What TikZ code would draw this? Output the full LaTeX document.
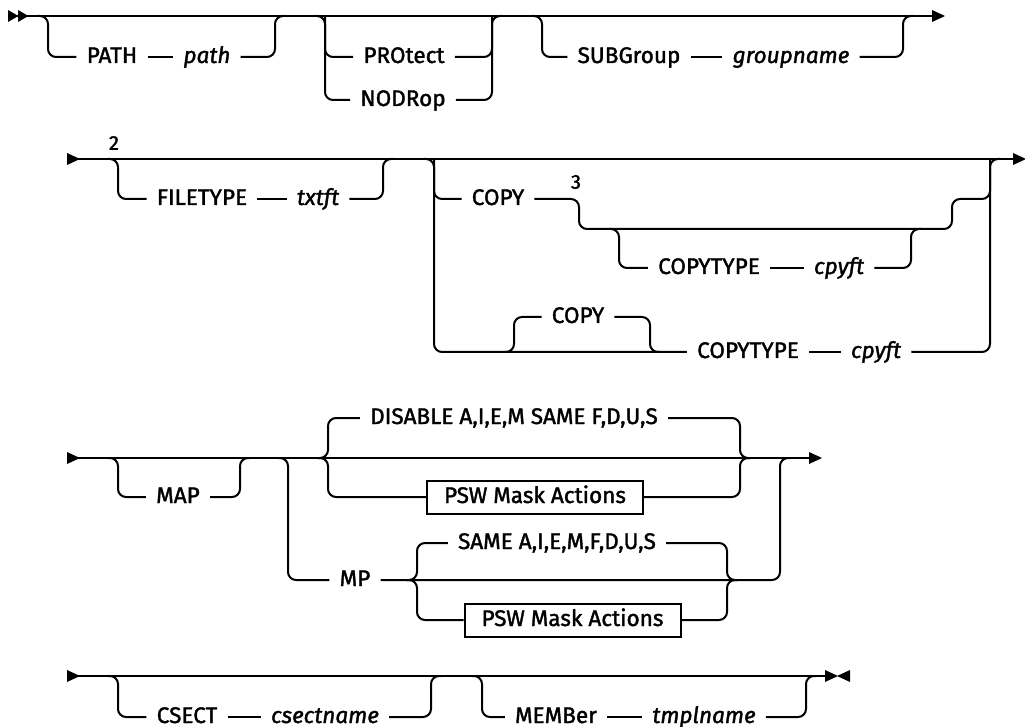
\documentclass[tikz,border=0pt]{standalone}
\usepackage{fontspec}
\setmainfont{Fira Sans}[FakeBold=1.6]

\begin{document}
\begin{tikzpicture}[x=0.75pt, y=-0.75pt,
    rail/.style={line width=1.5pt, rounded corners=6pt},
    kw/.style={inner xsep=7.5pt, inner ysep=0pt, text height=11.6pt, text depth=2.6pt,
      font=\fontsize{16.9}{19}\selectfont},
    var/.style={kw, font=\fontsize{16.9}{19}\selectfont\itshape},
    pswbox/.style={kw, draw, line width=1.5pt, minimum width=162pt, minimum height=24.75pt},
    fnote/.style={inner sep=0pt, font=\fontsize{15}{17}\selectfont},
    arrowhd/.pic={\fill (0,-6) -- (13,0) -- (0,6) -- cycle;}
  ]
  \useasboundingbox (0,0) rectangle (1025,727);

  % row 1
  \coordinate (r1s) at (8,16);
  \coordinate (r1e) at (932,16);
  \draw[rail] (r1s) -- (r1e);
  \pic[xscale=0.8] at (r1s) {arrowhd};
  \pic[xscale=0.8] at (18,16) {arrowhd};
  \pic at (r1e) {arrowhd};

  % PATH path
  \coordinate (a1) at (48,16);
  \coordinate (b1) at (275,16);
  \node[kw] (pathkw) at (112,57) {PATH};
  \node[var] (pathvar) at (207,57) {path};
  \draw[rail] (a1) ++(-10,0) -- (a1) |- (pathkw.west);
  \draw[rail] (pathkw.east) -- (pathvar.west);
  \draw[rail] (pathvar.east) -| (b1) -- ++(10,0);

  % PROtect / NODRop
  \coordinate (a2) at (325,16);
  \coordinate (b2) at (492,16);
  \node[kw] (protkw) at (404,57) {PROtect};
  \node[kw] (nodrkw) at (403,100) {NODRop};
  \draw[rail] (a2) ++(-10,0) -- (a2) |- (protkw.west);
  \draw[rail] (a2) |- (nodrkw.west);
  \draw[rail] (protkw.east) -| (b2) -- ++(10,0);
  \draw[rail] (nodrkw.east) -| (b2);

  % SUBGroup groupname
  \coordinate (a3) at (542,16);
  \coordinate (b3) at (903,16);
  \node[kw] (subkw) at (629,57) {SUBGroup};
  \node[var] (grpvar) at (791,57) {groupname};
  \draw[rail] (a3) ++(-10,0) -- (a3) |- (subkw.west);
  \draw[rail] (subkw.east) -- (grpvar.west);
  \draw[rail] (grpvar.east) -| (b3) -- ++(10,0);

  % row 2
  \coordinate (r2s) at (67,159);
  \coordinate (r2e) at (1013,159);
  \draw[rail] (r2s) -- (r2e);
  \pic at (r2s) {arrowhd};
  \pic at (r2e) {arrowhd};
  \node[fnote] (fn2) at (114,143) {2};

  % FILETYPE txtft
  \coordinate (a4) at (118,159);
  \coordinate (b4) at (383,159);
  \node[kw] (filekw) at (202,199) {FILETYPE};
  \node[var] (txtvar) at (318,199) {txtft};
  \draw[rail] (a4) ++(-10,0) -- (a4) |- (filekw.west);
  \draw[rail] (filekw.east) -- (txtvar.west);
  \draw[rail] (txtvar.east) -| (b4) -- ++(10,0);

  % COPY group
  \coordinate (a5) at (434,159);
  \coordinate (b5) at (990,159);
  \node[kw] (copy1) at (498,199) {COPY};
  \node[fnote] (fn3) at (576,182) {3};
  \coordinate (c1) at (579,229);
  \coordinate (d1) at (952,229);
  \draw[rail] (a5) ++(-10,0) -- (a5) |- (copy1.west);
  \draw[rail] (copy1.east) -| (c1) -- (d1) -- ++(0,-30) -| (b5) -- ++(10,0);

  % COPYTYPE inside COPY
  \coordinate (c2) at (619,229);
  \coordinate (d2) at (911,229);
  \node[kw] (ct1kw) at (709,268) {COPYTYPE};
  \node[var] (cf1var) at (839,268) {cpyft};
  \draw[rail] (c2) ++(-10,0) -- (c2) |- (ct1kw.west);
  \draw[rail] (ct1kw.east) -- (cf1var.west);
  \draw[rail] (cf1var.east) -| (d2) -- ++(10,0);

  % COPYTYPE with default COPY
  \node[kw] (ct2kw) at (748,352) {COPYTYPE};
  \node[var] (cf2var) at (876,352) {cpyft};
  \draw[rail] (a5) |- (ct2kw.west);
  \draw[rail] (ct2kw.east) -- (cf2var.west);
  \draw[rail] (cf2var.east) -| (b5);
  \coordinate (e1) at (514,352);
  \coordinate (f1) at (650,352);
  \node[kw] (copy2) at (578,317) {COPY};
  \draw[rail] (e1) ++(-10,0) -- (e1) |- (copy2.west);
  \draw[rail] (copy2.east) -| (f1) -- ++(10,0);

  % row 3
  \coordinate (r3s) at (67,458);
  \coordinate (r3e) at (809,458);
  \draw[rail] (r3s) -- (r3e);
  \pic at (r3s) {arrowhd};
  \pic at (r3e) {arrowhd};

  % MAP
  \coordinate (a6) at (118,458);
  \coordinate (b6) at (240,458);
  \node[kw] (mapkw) at (178,497) {MAP};
  \draw[rail] (a6) ++(-10,0) -- (a6) |- (mapkw.west);
  \draw[rail] (mapkw.east) -| (b6) -- ++(10,0);

  % choice after MAP
  \coordinate (g2) at (328,458);
  \coordinate (h2) at (740,458);
  \node[kw] (diskw) at (514,418) {DISABLE A,I,E,M SAME F,D,U,S};
  \node[pswbox] (psw1) at (535,497) {PSW Mask Actions};
  \draw[rail] (g2) ++(-10,0) -- (g2) |- (diskw.west);
  \draw[rail] (g2) ++(-10,0) -- (g2) |- (psw1.west);
  \draw[rail] (diskw.east) -| (h2) -- ++(10,0);
  \draw[rail] (psw1.east) -| (h2) -- ++(10,0);

  % MP
  \coordinate (a7) at (288,458);
  \coordinate (b7) at (780,458);
  \node[kw] (mpkw) at (355,580) {MP};
  \draw[rail] (a7) ++(-10,0) -- (a7) |- (mpkw.west);
  \draw[rail] (mpkw.east) -| (b7) -- ++(10,0);

  % choice after MP
  \coordinate (g1) at (417,580);
  \coordinate (h1) at (727,580);
  \node[kw] (samekw) at (557,543) {SAME A,I,E,M,F,D,U,S};
  \node[pswbox] (psw2) at (572.5,620) {PSW Mask Actions};
  \draw[rail] (g1) ++(-10,0) -- (g1) |- (samekw.west);
  \draw[rail] (g1) ++(-10,0) -- (g1) |- (psw2.west);
  \draw[rail] (samekw.east) -| (h1) -- ++(10,0);
  \draw[rail] (psw2.east) -| (h1) -- ++(10,0);

  % row 4
  \coordinate (r4s) at (67,676);
  \coordinate (r4e) at (825,676);
  \draw[rail] (r4s) -- (r4e);
  \pic at (r4s) {arrowhd};
  \pic at (r4e) {arrowhd};
  \pic[xscale=-1] at (850,676) {arrowhd};

  % CSECT csectname
  \coordinate (a8) at (118,676);
  \coordinate (b8) at (431,676);
  \node[kw] (csectkw) at (187,717) {CSECT};
  \node[var] (csvar) at (325,717) {csectname};
  \draw[rail] (a8) ++(-10,0) -- (a8) |- (csectkw.west);
  \draw[rail] (csectkw.east) -- (csvar.west);
  \draw[rail] (csvar.east) -| (b8) -- ++(10,0);

  % MEMBer tmplname
  \coordinate (a9) at (482,676);
  \coordinate (b9) at (806,676);
  \node[kw] (membkw) at (556,717) {MEMBer};
  \node[var] (tmplvar) at (704,717) {tmplname};
  \draw[rail] (a9) ++(-10,0) -- (a9) |- (membkw.west);
  \draw[rail] (membkw.east) -- (tmplvar.west);
  \draw[rail] (tmplvar.east) -| (b9) -- ++(10,0);
\end{tikzpicture}
\end{document}
